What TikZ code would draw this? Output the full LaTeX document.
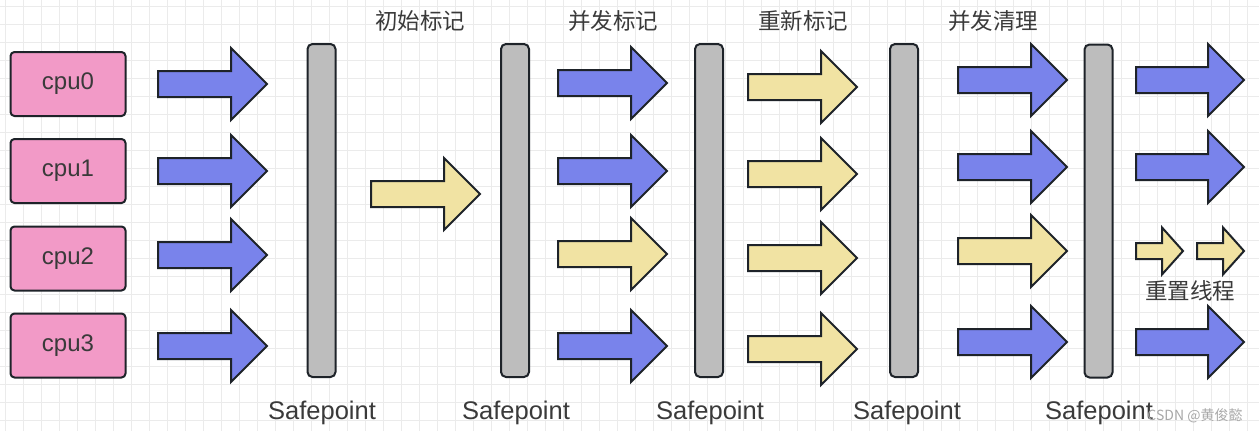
\documentclass[tikz,border=0pt]{standalone}
\usepackage{fontspec}
\setmainfont{Liberation Sans}
\newfontfamily\cjk{Noto Sans CJK SC}
\definecolor{gridc}{HTML}{EBEBEB}
\definecolor{strokec}{HTML}{1E2329}
\definecolor{pinkc}{HTML}{F29AC7}
\definecolor{bluec}{HTML}{7983EB}
\definecolor{yellowc}{HTML}{F1E3A3}
\definecolor{barc}{HTML}{BDBDBD}
\definecolor{textc}{HTML}{3A3A3A}
\definecolor{wmc}{HTML}{A8A8A8}
\tikzset{
  cpubox/.style={draw=strokec, line width=2pt, fill=pinkc, rounded corners=4pt,
    minimum width=115pt, minimum height=64pt, inner sep=0pt,
    font=\fontsize{24}{28}\selectfont, text=textc},
  sbar/.style={draw=strokec, line width=2pt, fill=barc, rounded corners=5pt,
    minimum width=28pt, minimum height=333pt, inner sep=0pt},
  splabel/.style={anchor=base, inner sep=0pt, font=\fontsize{25.5}{28}\selectfont, text=textc},
  cnlabel/.style={anchor=base, inner sep=0pt, font=\cjk\fontsize{22.5}{26}\selectfont, text=textc},
  fat/.style={draw=strokec, line width=2pt, line join=miter},
}
% big arrow: #1 start x, #2 tip x, #3 centre y, #4 fill
\newcommand\bigarr[4]{%
  \draw[fat, fill=#4] (#1,#3-13) -- (#2-36,#3-13) -- (#2-36,#3-36) -- (#2,#3)
    -- (#2-36,#3+36) -- (#2-36,#3+13) -- (#1,#3+13) -- cycle;}
\newcommand\smallarr[4]{%
  \draw[fat, fill=#4] (#1,#3-8) -- (#2-21,#3-8) -- (#2-21,#3-23.5) -- (#2,#3)
    -- (#2-21,#3+23.5) -- (#2-21,#3+8) -- (#1,#3+8) -- cycle;}
\begin{document}
\begin{tikzpicture}[x=1pt,y=-1pt]
\useasboundingbox (0,0) rectangle (1259,431);
\fill[white] (0,0) rectangle (1259,431);
\foreach \i in {0,...,69} \draw[gridc, line width=1pt] (5.5+18*\i,0) -- (5.5+18*\i,431);
\foreach \i in {0,...,23} \draw[gridc, line width=1pt] (0,6+18*\i) -- (1259,6+18*\i);

% cpu boxes
\node[cpubox] (cpu0) at (68,84) {cpu0};
\node[cpubox] (cpu1) at (68,171) {cpu1};
\node[cpubox] (cpu2) at (68,258.5) {cpu2};
\node[cpubox] (cpu3) at (68,345.5) {cpu3};

% safepoint bars
\node[sbar] (b1) at (321.5,210.5) {};
\node[sbar] (b2) at (515,210.5) {};
\node[sbar] (b3) at (709,210.5) {};
\node[sbar] (b4) at (904,210.5) {};
\node[sbar] (b5) at (1098.5,211) {};

\foreach \n/\x in {s1/322,s2/516,s3/710,s4/907,s5/1099}
  \node[splabel] (\n) at (\x,419) {Safepoint};

% phase labels
\node[cnlabel] (l1) at (420,30) {初始标记};
\node[cnlabel] (l2) at (613,30) {并发标记};
\node[cnlabel] (l3) at (803,30) {重新标记};
\node[cnlabel] (l4) at (993,30) {并发清理};
\node[cnlabel] (l5) at (1190,299) {重置线程};

% column 1
\bigarr{158}{267}{84}{bluec}
\bigarr{158}{267}{171}{bluec}
\bigarr{158}{267}{255}{bluec}
\bigarr{158}{267}{346}{bluec}
% column 2
\bigarr{371}{480}{194}{yellowc}
% column 3
\bigarr{558}{667}{83}{bluec}
\bigarr{558}{667}{171}{bluec}
\bigarr{558}{667}{254}{yellowc}
\bigarr{558}{667}{346}{bluec}
% column 4
\bigarr{748}{857}{87}{yellowc}
\bigarr{748}{857}{174}{yellowc}
\bigarr{748}{857}{258}{yellowc}
\bigarr{748}{857}{349}{yellowc}
% column 5
\bigarr{958}{1067}{80}{bluec}
\bigarr{958}{1067}{167}{bluec}
\bigarr{958}{1067}{251}{yellowc}
\bigarr{958}{1067}{342}{bluec}
% column 6
\bigarr{1136}{1244}{80}{bluec}
\bigarr{1136}{1244}{167}{bluec}
\smallarr{1136}{1183}{251}{yellowc}
\smallarr{1197}{1244}{251}{yellowc}
\bigarr{1136}{1244}{342}{bluec}

% watermark
\node[anchor=base, inner sep=0pt, text=wmc, font=\cjk\fontsize{14}{16}\selectfont] (wm) at (1195,420) {CSDN @黄俊懿};
\end{tikzpicture}
\end{document}
